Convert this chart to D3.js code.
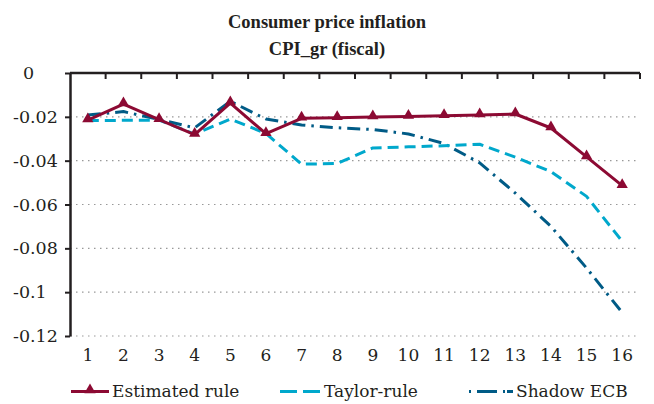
<!DOCTYPE html>
<html>
<head>
<meta charset="utf-8">
<script src="https://cdn.jsdelivr.net/npm/d3@7"></script>
<style>
  body { margin: 0; background: #fff; }
  svg text { font-family: 'DejaVu Serif', serif; fill: #231f20; }
</style>
</head>
<body>
<div id="chart"></div>
<script>
(function() {
	var width = 654,
		height = 404;

	// data
	var periods = [1, 2, 3, 4, 5, 6, 7, 8, 9, 10, 11, 12, 13, 14, 15, 16];
	var estimatedRule = [-0.0215, -0.0142, -0.0213, -0.0281, -0.0137, -0.0277, -0.0207, -0.0204, -0.0201, -0.0198, -0.0195, -0.0192, -0.0187, -0.0251, -0.0383, -0.0514];
	var taylorRule = [-0.0217, -0.0216, -0.0215, -0.0279, -0.0210, -0.0276, -0.0416, -0.0413, -0.0342, -0.0337, -0.0332, -0.0325, -0.0384, -0.0450, -0.0563, -0.0768];
	var shadowEcb = [-0.0192, -0.0176, -0.0212, -0.0250, -0.0129, -0.0210, -0.0237, -0.0250, -0.0258, -0.0278, -0.0322, -0.0410, -0.0548, -0.0700, -0.0890, -0.1093];
	var yTicks = [0, -0.02, -0.04, -0.06, -0.08, -0.1, -0.12];
	var seriesNames = ["Estimated rule", "Taylor-rule", "Shadow ECB"];

	var margin = {left: 70, right: 14, top: 73, bottom: 68};
	var font = "'DejaVu Serif', serif";
	var titleFont = "'Liberation Serif', 'DejaVu Serif', serif";

	var svg = d3.select("#chart")
		.append("svg")
		.attr("width", width)
		.attr("height", height);

	var x = d3.scaleBand()
		.domain(periods)
		.range([margin.left, width - margin.right]);

	var y = d3.scaleLinear()
		.domain([0, -0.12])
		.range([margin.top, height - margin.bottom]);

	function cx(i) { return x(periods[i]) + x.bandwidth() / 2; }

	function label(parent, px, py, str, anchor) {
		return parent.append("text")
			.attr("x", px).attr("y", py)
			.attr("text-anchor", anchor || "start")
			.style("font-family", font)
			.style("font-size", "17px")
			.text(str);
	}

	// titles
	svg.append("text")
		.attr("x", 327).attr("y", 28)
		.attr("text-anchor", "middle")
		.style("font-family", titleFont)
		.style("font-size", "18.5px").style("font-weight", "bold")
		.text("Consumer price inflation");
	svg.append("text")
		.attr("x", 327).attr("y", 55)
		.attr("text-anchor", "middle")
		.style("font-family", titleFont)
		.style("font-size", "18.5px").style("font-weight", "bold")
		.text("CPI_gr (fiscal)");

	// dotted gridlines
	svg.append("g")
		.selectAll("line")
		.data(yTicks.filter(function(d) { return d !== 0; }))
		.enter().append("line")
		.attr("x1", margin.left).attr("x2", width - margin.right)
		.attr("y1", function(d) { return y(d); })
		.attr("y2", function(d) { return y(d); })
		.attr("stroke", "#999")
		.attr("stroke-width", 1.2)
		.attr("stroke-dasharray", "1.5,4.5");

	// y axis on the left
	var yAxis = svg.append("g")
		.attr("transform", "translate(" + margin.left + ",0)")
		.call(d3.axisLeft(y).tickValues(yTicks).tickSize(5).tickSizeOuter(0)
			.tickFormat(function(d) { return d === 0 ? "0" : String(d); }));
	yAxis.attr("font-family", null).attr("font-size", null);
	yAxis.select(".domain").attr("stroke", "#231f20").attr("stroke-width", 2.5);
	yAxis.selectAll(".tick line").attr("stroke", "#231f20").attr("stroke-width", 2);
	yAxis.selectAll(".tick text")
		.attr("x", function(d) { return d === 0 ? -47 : -57; })
		.attr("text-anchor", "start")
		.style("font-size", "17.5px")
		.style("font-family", font)
		.attr("fill", "#231f20");

	// x axis along the zero line, ticks between categories
	var xAxisG = svg.append("g");
	xAxisG.append("line")
		.attr("x1", margin.left).attr("x2", width - margin.right)
		.attr("y1", y(0)).attr("y2", y(0))
		.attr("stroke", "#231f20").attr("stroke-width", 2.5);
	xAxisG.selectAll(".xt")
		.data(periods)
		.enter().append("line")
		.attr("class", "xt")
		.attr("x1", function(d) { return x(d) + x.bandwidth(); })
		.attr("x2", function(d) { return x(d) + x.bandwidth(); })
		.attr("y1", y(0)).attr("y2", y(0) + 6)
		.attr("stroke", "#231f20").attr("stroke-width", 2);

	// category labels below the plot
	var xLabels = svg.append("g");
	periods.forEach(function(d) {
		label(xLabels, x(d) + x.bandwidth() / 2, 361, d, "middle");
	});

	var line = d3.line()
		.x(function(d, i) { return cx(i); })
		.y(function(d) { return y(d); });

	var series = [
		{name: seriesNames[0], values: estimatedRule, color: "#8c0a33", dash: null, width: 3},
		{name: seriesNames[1], values: taylorRule, color: "#00a8cc", dash: "11,6", width: 3},
		{name: seriesNames[2], values: shadowEcb, color: "#005b86", dash: "13,6,2.5,6", width: 3}
	];

	// draw in reverse so estimated rule sits on top
	series.slice().reverse().forEach(function(s) {
		svg.append("path")
			.datum(s.values)
			.attr("fill", "none")
			.attr("stroke", s.color)
			.attr("stroke-width", s.width)
			.attr("stroke-dasharray", s.dash)
			.attr("stroke-linecap", s.dash ? "butt" : "round")
			.attr("stroke-linejoin", "round")
			.attr("d", line);
	});

	// triangle markers
	var tri = d3.symbol().type(d3.symbolTriangle).size(55);
	svg.append("g")
		.selectAll("path")
		.data(estimatedRule)
		.enter().append("path")
		.attr("transform", function(d, i) { return "translate(" + cx(i) + "," + (y(d) - 1) + ")"; })
		.attr("d", tri)
		.attr("fill", series[0].color);

	// legend
	var legendY = 397;
	var legendItems = [
		{x1: 71, x2: 109, tx: 112},
		{x1: 280, x2: 321, tx: 324},
		{x1: 469, x2: 513, tx: 516}
	];
	var legend = svg.append("g");
	series.forEach(function(s, i) {
		var p = legendItems[i];
		legend.append("line")
			.attr("x1", p.x1).attr("x2", p.x2)
			.attr("y1", legendY - 5.5).attr("y2", legendY - 5.5)
			.attr("stroke", s.color)
			.attr("stroke-width", s.width)
			.attr("stroke-dasharray", i === 1 ? "17,6" : (i === 2 ? "2,6,20,6,2" : null));
		if (i === 0) {
			legend.append("path")
				.attr("transform", "translate(" + ((p.x1 + p.x2) / 2) + "," + (legendY - 7) + ")")
				.attr("d", tri)
				.attr("fill", s.color);
		}
		label(legend, p.tx, legendY, s.name, "start");
	});
})();
</script>
</body>
</html>
